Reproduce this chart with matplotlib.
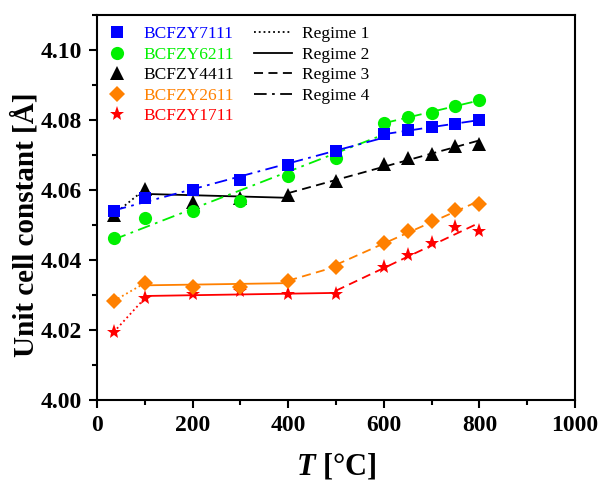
import numpy as np
import matplotlib
matplotlib.use('Agg')
import matplotlib.pyplot as plt
from matplotlib.lines import Line2D
from matplotlib.ticker import MultipleLocator

matplotlib.rcParams['font.family'] = 'Liberation Serif'
matplotlib.rcParams['mathtext.fontset'] = 'custom'
matplotlib.rcParams['mathtext.it'] = 'Liberation Serif:italic:bold'

# temperatures, degC
T = np.array([35, 100, 200, 300, 400, 500, 600, 650, 700, 750, 800])

# unit cell constants, Angstrom
a_7111 = np.array([4.0540, 4.0578, 4.0600, 4.0628, 4.0670, 4.0711, 4.0759, 4.0770, 4.0780, 4.0789, 4.0800])
a_6211 = np.array([4.0462, 4.0520, 4.0540, 4.0569, 4.0640, 4.0690, 4.0792, 4.0808, 4.0820, 4.0839, 4.0858])
a_4411 = np.array([4.0530, 4.0602, 4.0567, 4.0578, 4.0586, 4.0626, 4.0675, 4.0692, 4.0704, 4.0725, 4.0732])
a_2611 = np.array([4.0283, 4.0334, 4.0324, 4.0324, 4.0341, 4.0381, 4.0449, 4.0482, 4.0512, 4.0542, 4.0561])
a_1711 = np.array([4.0194, 4.0291, 4.0302, 4.0311, 4.0302, 4.0302, 4.0381, 4.0413, 4.0450, 4.0493, 4.0482])

names = ['BCFZY7111', 'BCFZY6211', 'BCFZY4411', 'BCFZY2611', 'BCFZY1711']
regimes = ['Regime 1', 'Regime 2', 'Regime 3', 'Regime 4']

# linear fits over index ranges (start, end, regime)
seg_7111 = [(0, 6, 4), (6, 10, 4)]
seg_6211 = [(0, 6, 4), (6, 10, 4)]
seg_4411 = [(0, 1, 1), (1, 4, 2), (4, 10, 3)]
seg_2611 = [(0, 1, 1), (1, 4, 2), (4, 5, 3), (5, 10, 3)]
seg_1711 = [(0, 1, 1), (1, 5, 2), (5, 10, 3)]

styles = {1: ':', 2: '-', 3: (0, (5, 3)), 4: (0, (7, 3, 1.5, 3))}
colors = ['#0000FF', '#00F000', '#000000', '#FF8000', '#FF0000']
markers = ['s', 'o', '^', 'D', '*']
msizes = [8.5, 9.5, 9.5, 8.5, 11]

series = [a_7111, a_6211, a_4411, a_2611, a_1711]
segs = [seg_7111, seg_6211, seg_4411, seg_2611, seg_1711]

fig = plt.figure(figsize=(6.01, 4.82), dpi=100)
ax = fig.add_axes([0.1614, 0.1701, 0.7953, 0.7988])

for k in [4, 3, 2, 1, 0]:
    y = series[k]
    for i0, i1, r in segs[k]:
        p = np.polyfit(T[i0:i1 + 1], y[i0:i1 + 1], 1)
        xs = np.array([T[i0], T[i1]])
        ax.plot(xs, np.polyval(p, xs), color=colors[k], linestyle=styles[r], linewidth=1.3, zorder=2)
    ax.plot(T, y, linestyle='none', marker=markers[k], markersize=msizes[k],
            color=colors[k], markeredgewidth=0, zorder=3)

ax.set_xlim(0, 1000)
ax.set_ylim(4.00, 4.11)
ax.xaxis.set_major_locator(MultipleLocator(200))
ax.xaxis.set_minor_locator(MultipleLocator(100))
ax.set_yticks([4.00, 4.02, 4.04, 4.06, 4.08, 4.10])
ax.yaxis.set_minor_locator(MultipleLocator(0.01))
ax.set_yticklabels(['4.00', '4.02', '4.04', '4.06', '4.08', '4.10'])
for s in ax.spines.values():
    s.set_linewidth(1.5)
ax.tick_params(axis='both', which='major', direction='out', length=6, width=1.5, labelsize=17, pad=5)
ax.tick_params(axis='both', which='minor', direction='out', length=3.5, width=1.5)
for lab in ax.get_xticklabels() + ax.get_yticklabels():
    lab.set_fontweight('bold')

ax.set_ylabel('Unit cell constant [Å]', fontsize=21, fontweight='bold')
ax.yaxis.set_label_coords(-0.12, 0.455)
ax.set_xlabel('$T$ [°C]', fontsize=22, fontweight='bold')
ax.xaxis.set_label_coords(0.5, -0.135)

h1 = [Line2D([], [], linestyle='none', marker=markers[k], markersize=msizes[k],
             color=colors[k], markeredgewidth=0) for k in range(5)]
leg1 = ax.legend(h1, names, loc='upper left', bbox_to_anchor=(0.0, 1.0), frameon=False,
                 fontsize=12.5, labelcolor=colors, handlelength=1.0, handletextpad=1.0,
                 labelspacing=0.25, borderaxespad=0.25)
ax.add_artist(leg1)

h2 = [Line2D([], [], color='black', linestyle=styles[r], linewidth=1.3) for r in [1, 2, 3, 4]]
ax.legend(h2, regimes, loc='upper left', bbox_to_anchor=(0.304, 1.0), frameon=False,
          fontsize=12.5, handlelength=2.2, handletextpad=0.6, labelspacing=0.25, borderaxespad=0.25)

plt.savefig('out.png', dpi=100)
